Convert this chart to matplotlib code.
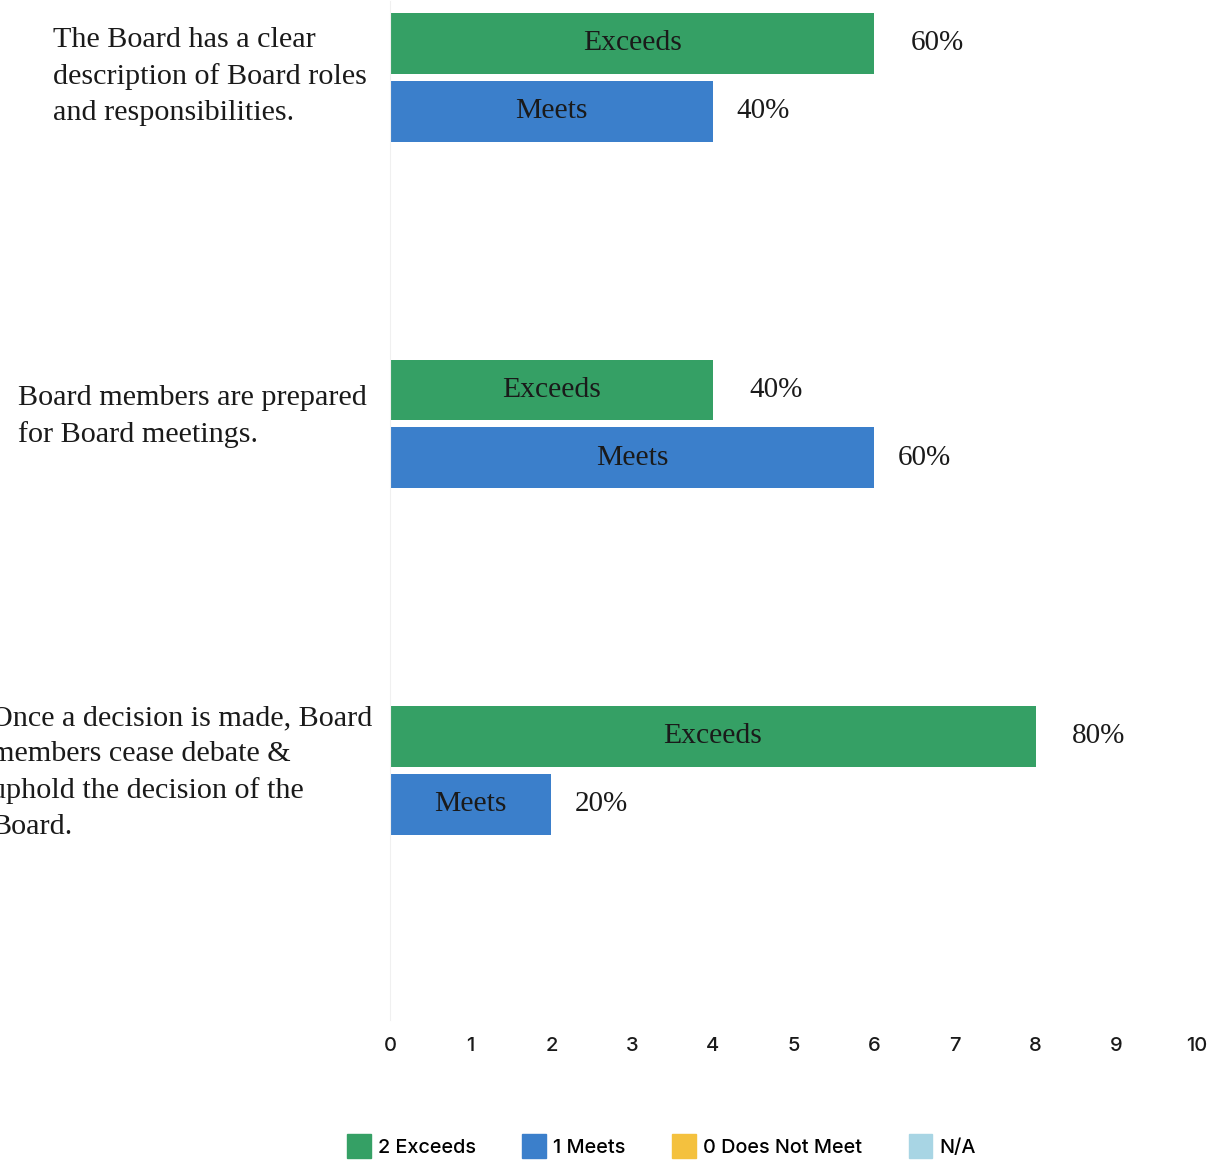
import matplotlib.pyplot as plt
from matplotlib.patches import Patch
import numpy as np

# data
questions = [
    "The Board has a clear\ndescription of Board roles\nand responsibilities.",
    "Board members are prepared\nfor Board meetings.",
    "Once a decision is made, Board\nmembers cease debate &\nuphold the decision of the\nBoard.",
]
exceeds = [6, 4, 8]
meets = [4, 6, 2]
exceeds_pct = ["60%", "40%", "80%"]
meets_pct = ["40%", "60%", "20%"]
legend_labels = ["2 Exceeds", "1 Meets", "0 Does Not Meet", "N/A"]
x_ticks = list(range(0, 11))

green = "#35a065"
blue = "#3b7fcb"
yellow = "#f4c13e"
lightblue = "#a8d5e4"

serif = "Liberation Serif"
sans = "Inter"
ink = "#1a1a1a"

fig = plt.figure(figsize=(12.09, 11.62), dpi=100)
ax = fig.add_axes([390 / 1209, 1 - 1020 / 1162, 807 / 1209, 1019 / 1162])

y = np.arange(len(questions))
off = 0.098
h = 0.175
ax.barh(y - off, exceeds, height=h, color=green, edgecolor="none")
ax.barh(y + off, meets, height=h, color=blue, edgecolor="none")

for i in range(len(questions)):
    ax.text(exceeds[i] / 2, y[i] - off, "Exceeds", ha="center", va="center",
            fontsize=21.3, family=serif, color=ink)
    ax.text(meets[i] / 2, y[i] + off, "Meets", ha="center", va="center",
            fontsize=21.3, family=serif, color=ink)
    ax.annotate(exceeds_pct[i], (exceeds[i], y[i] - off), xytext=(26, 0),
                textcoords="offset points", ha="left", va="center",
                fontsize=21, family=serif, color=ink)
    ax.annotate(meets_pct[i], (meets[i], y[i] + off), xytext=(17, 0),
                textcoords="offset points", ha="left", va="center",
                fontsize=21, family=serif, color=ink)

# question labels, left-aligned block sitting left of the bars
label_offsets = [(-17, 0.7), (-17, 5.4), (-12.7, -1.8)]
for i, q in enumerate(questions):
    ax.annotate(q, (0, y[i]), xycoords=("axes fraction", "data"),
                xytext=label_offsets[i], textcoords="offset points",
                ha="right", va="center", multialignment="left",
                fontsize=21.7, family=serif, color=ink, linespacing=1.48,
                annotation_clip=False)

ax.set_xlim(0, 10)
ax.set_ylim(2.72, -0.22)
ax.set_xticks(x_ticks)
ax.set_xticklabels([str(t) for t in x_ticks], family=sans, fontsize=14.5,
                   fontweight="medium", color=ink)
ax.tick_params(axis="x", length=0, pad=12)
ax.set_yticks([])
for s in ["top", "right", "bottom"]:
    ax.spines[s].set_visible(False)
ax.spines["left"].set_color("#f0f0f0")

handles = [Patch(color=c) for c in [green, blue, yellow, lightblue]]
fig.legend(handles, legend_labels, loc="center", bbox_to_anchor=(0.547, 0.0135),
           ncol=4, frameon=False, handlelength=1.2, handleheight=1.5,
           handletextpad=0.35, columnspacing=2.35,
           prop={"family": sans, "size": 14.3, "weight": "medium"})

fig.savefig("out.png", dpi=100)
